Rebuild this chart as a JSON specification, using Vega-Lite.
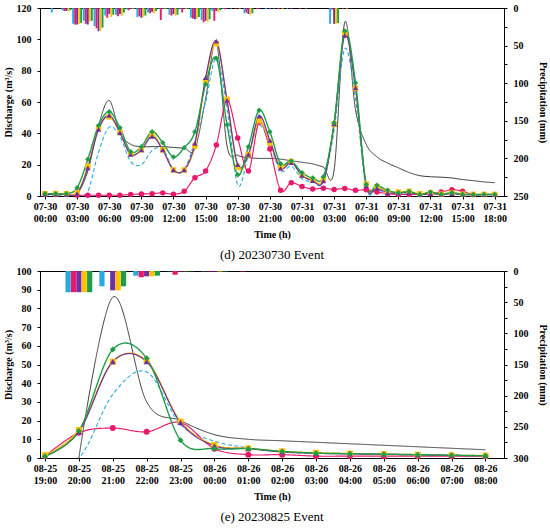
{
  "$schema": "https://vega.github.io/schema/vega-lite/v6.json",
  "padding": {"left": 2, "top": 2, "right": 0, "bottom": 0},
  "spacing": 2,
  "config": {
    "font": "Liberation Serif",
    "view": {"stroke": "black", "strokeWidth": 1},
    "axis": {
      "labelFont": "Liberation Serif", "labelFontWeight": "bold", "labelFontSize": 10, "labelColor": "black",
      "titleFont": "Liberation Serif", "titleFontWeight": "bold", "titleFontSize": 10, "titleColor": "black",
      "domainColor": "black", "tickColor": "black", "tickSize": 3, "grid": false, "labelPadding": 2, "titlePadding": 3
    },
    "axisY": {"labelPadding": 6},
    "title": {"font": "Liberation Serif", "fontSize": 13, "fontWeight": "normal", "color": "black"}
  },
  "datasets": {
    "q1": [
      {"h":0,"s":"Obs","q":1},{"h":1,"s":"Obs","q":1},{"h":2,"s":"Obs","q":1},{"h":3,"s":"Obs","q":1.5},{"h":4,"s":"Obs","q":16},{"h":5,"s":"Obs","q":45},{"h":6,"s":"Obs","q":61},{"h":7,"s":"Obs","q":40},{"h":8,"s":"Obs","q":33},{"h":9,"s":"Obs","q":31.5},{"h":10,"s":"Obs","q":31.5},{"h":11,"s":"Obs","q":31.5},{"h":12,"s":"Obs","q":31},{"h":13,"s":"Obs","q":30.5},{"h":14,"s":"Obs","q":30},{"h":15,"s":"Obs","q":62},{"h":16,"s":"Obs","q":98},{"h":17,"s":"Obs","q":32},{"h":18,"s":"Obs","q":26},{"h":19,"s":"Obs","q":24.5},{"h":20,"s":"Obs","q":24},{"h":21,"s":"Obs","q":24},{"h":22,"s":"Obs","q":23.5},{"h":23,"s":"Obs","q":22.5},{"h":24,"s":"Obs","q":21.5},{"h":25,"s":"Obs","q":20.5},{"h":26,"s":"Obs","q":18.5},{"h":27,"s":"Obs","q":16.5},{"h":28,"s":"Obs","q":111},{"h":29,"s":"Obs","q":55},{"h":30,"s":"Obs","q":33},{"h":31,"s":"Obs","q":25},{"h":32,"s":"Obs","q":21},{"h":33,"s":"Obs","q":18},{"h":34,"s":"Obs","q":15},{"h":35,"s":"Obs","q":13},{"h":36,"s":"Obs","q":12.3},{"h":37,"s":"Obs","q":12},{"h":38,"s":"Obs","q":11.5},{"h":39,"s":"Obs","q":10.5},{"h":40,"s":"Obs","q":9.8},{"h":41,"s":"Obs","q":9},{"h":42,"s":"Obs","q":8.5},
      {"h":0,"s":"P1","q":0.5},{"h":1,"s":"P1","q":0.5},{"h":2,"s":"P1","q":0.5},{"h":3,"s":"P1","q":0.5},{"h":4,"s":"P1","q":3},{"h":5,"s":"P1","q":28},{"h":6,"s":"P1","q":44},{"h":7,"s":"P1","q":38},{"h":8,"s":"P1","q":22},{"h":9,"s":"P1","q":20},{"h":10,"s":"P1","q":29},{"h":11,"s":"P1","q":30},{"h":12,"s":"P1","q":17},{"h":13,"s":"P1","q":17},{"h":14,"s":"P1","q":35},{"h":15,"s":"P1","q":60},{"h":16,"s":"P1","q":88},{"h":17,"s":"P1","q":56},{"h":18,"s":"P1","q":7},{"h":19,"s":"P1","q":26},{"h":20,"s":"P1","q":45},{"h":21,"s":"P1","q":33},{"h":22,"s":"P1","q":16},{"h":23,"s":"P1","q":19},{"h":24,"s":"P1","q":11},{"h":25,"s":"P1","q":9},{"h":26,"s":"P1","q":9},{"h":27,"s":"P1","q":42},{"h":28,"s":"P1","q":94},{"h":29,"s":"P1","q":62},{"h":30,"s":"P1","q":5},{"h":31,"s":"P1","q":4},{"h":32,"s":"P1","q":2},{"h":33,"s":"P1","q":1.5},{"h":34,"s":"P1","q":2},{"h":35,"s":"P1","q":1},{"h":36,"s":"P1","q":1.5},{"h":37,"s":"P1","q":1},{"h":38,"s":"P1","q":1.5},{"h":39,"s":"P1","q":1},{"h":40,"s":"P1","q":1},{"h":41,"s":"P1","q":1},{"h":42,"s":"P1","q":1},
      {"h":0,"s":"P2","q":1},{"h":1,"s":"P2","q":1},{"h":2,"s":"P2","q":1},{"h":3,"s":"P2","q":0.5},{"h":4,"s":"P2","q":0.5},{"h":5,"s":"P2","q":0.5},{"h":6,"s":"P2","q":0.5},{"h":7,"s":"P2","q":0.5},{"h":8,"s":"P2","q":1},{"h":9,"s":"P2","q":1.3},{"h":10,"s":"P2","q":1.5},{"h":11,"s":"P2","q":2},{"h":12,"s":"P2","q":1.2},{"h":13,"s":"P2","q":3},{"h":14,"s":"P2","q":11.7},{"h":15,"s":"P2","q":16},{"h":16,"s":"P2","q":32.5},{"h":17,"s":"P2","q":61},{"h":18,"s":"P2","q":37},{"h":19,"s":"P2","q":16},{"h":20,"s":"P2","q":47},{"h":21,"s":"P2","q":30},{"h":22,"s":"P2","q":3.7},{"h":23,"s":"P2","q":8.5},{"h":24,"s":"P2","q":6},{"h":25,"s":"P2","q":4.5},{"h":26,"s":"P2","q":5},{"h":27,"s":"P2","q":4.2},{"h":28,"s":"P2","q":4.8},{"h":29,"s":"P2","q":3.6},{"h":30,"s":"P2","q":4},{"h":31,"s":"P2","q":2.6},{"h":32,"s":"P2","q":1.5},{"h":33,"s":"P2","q":1},{"h":34,"s":"P2","q":1},{"h":35,"s":"P2","q":1},{"h":36,"s":"P2","q":1.5},{"h":37,"s":"P2","q":2.5},{"h":38,"s":"P2","q":4},{"h":39,"s":"P2","q":3},{"h":40,"s":"P2","q":1},{"h":41,"s":"P2","q":1},{"h":42,"s":"P2","q":1},
      {"h":0,"s":"P4","q":1.5},{"h":1,"s":"P4","q":1.5},{"h":2,"s":"P4","q":1.5},{"h":3,"s":"P4","q":2},{"h":4,"s":"P4","q":19},{"h":5,"s":"P4","q":43.5},{"h":6,"s":"P4","q":50.5},{"h":7,"s":"P4","q":40.5},{"h":8,"s":"P4","q":27},{"h":9,"s":"P4","q":29.5},{"h":10,"s":"P4","q":39.5},{"h":11,"s":"P4","q":29.5},{"h":12,"s":"P4","q":16.6},{"h":13,"s":"P4","q":16.6},{"h":14,"s":"P4","q":32},{"h":15,"s":"P4","q":73.5},{"h":16,"s":"P4","q":97.2},{"h":17,"s":"P4","q":61.7},{"h":18,"s":"P4","q":18.5},{"h":19,"s":"P4","q":26.5},{"h":20,"s":"P4","q":48},{"h":21,"s":"P4","q":34},{"h":22,"s":"P4","q":18.5},{"h":23,"s":"P4","q":22},{"h":24,"s":"P4","q":13.2},{"h":25,"s":"P4","q":10.5},{"h":26,"s":"P4","q":10.5},{"h":27,"s":"P4","q":45.7},{"h":28,"s":"P4","q":104},{"h":29,"s":"P4","q":68.7},{"h":30,"s":"P4","q":7.6},{"h":31,"s":"P4","q":6},{"h":32,"s":"P4","q":3},{"h":33,"s":"P4","q":2.5},{"h":34,"s":"P4","q":3},{"h":35,"s":"P4","q":1.5},{"h":36,"s":"P4","q":2},{"h":37,"s":"P4","q":1.2},{"h":38,"s":"P4","q":2},{"h":39,"s":"P4","q":1.2},{"h":40,"s":"P4","q":1},{"h":41,"s":"P4","q":1},{"h":42,"s":"P4","q":1},
      {"h":0,"s":"P3","q":1},{"h":1,"s":"P3","q":1},{"h":2,"s":"P3","q":1},{"h":3,"s":"P3","q":1.5},{"h":4,"s":"P3","q":18},{"h":5,"s":"P3","q":42.5},{"h":6,"s":"P3","q":51.5},{"h":7,"s":"P3","q":40.4},{"h":8,"s":"P3","q":26.6},{"h":9,"s":"P3","q":29.4},{"h":10,"s":"P3","q":38},{"h":11,"s":"P3","q":29.4},{"h":12,"s":"P3","q":16.6},{"h":13,"s":"P3","q":16.6},{"h":14,"s":"P3","q":33.6},{"h":15,"s":"P3","q":75.5},{"h":16,"s":"P3","q":98.9},{"h":17,"s":"P3","q":61},{"h":18,"s":"P3","q":20},{"h":19,"s":"P3","q":26.5},{"h":20,"s":"P3","q":51},{"h":21,"s":"P3","q":35.5},{"h":22,"s":"P3","q":17.7},{"h":23,"s":"P3","q":21.3},{"h":24,"s":"P3","q":13.2},{"h":25,"s":"P3","q":9.8},{"h":26,"s":"P3","q":9.7},{"h":27,"s":"P3","q":46},{"h":28,"s":"P3","q":102.5},{"h":29,"s":"P3","q":69},{"h":30,"s":"P3","q":6.5},{"h":31,"s":"P3","q":5},{"h":32,"s":"P3","q":2.2},{"h":33,"s":"P3","q":1.8},{"h":34,"s":"P3","q":2.2},{"h":35,"s":"P3","q":1},{"h":36,"s":"P3","q":1.5},{"h":37,"s":"P3","q":1},{"h":38,"s":"P3","q":1.5},{"h":39,"s":"P3","q":1},{"h":40,"s":"P3","q":0.8},{"h":41,"s":"P3","q":0.8},{"h":42,"s":"P3","q":0.8},
      {"h":0,"s":"P5","q":1.5},{"h":1,"s":"P5","q":1.5},{"h":2,"s":"P5","q":1.5},{"h":3,"s":"P5","q":5.3},{"h":4,"s":"P5","q":23.4},{"h":5,"s":"P5","q":45},{"h":6,"s":"P5","q":53.8},{"h":7,"s":"P5","q":43.6},{"h":8,"s":"P5","q":28.3},{"h":9,"s":"P5","q":31.5},{"h":10,"s":"P5","q":41},{"h":11,"s":"P5","q":34},{"h":12,"s":"P5","q":24.9},{"h":13,"s":"P5","q":30.8},{"h":14,"s":"P5","q":41},{"h":15,"s":"P5","q":71.3},{"h":16,"s":"P5","q":87.9},{"h":17,"s":"P5","q":45.5},{"h":18,"s":"P5","q":13.5},{"h":19,"s":"P5","q":31.5},{"h":20,"s":"P5","q":54.7},{"h":21,"s":"P5","q":41},{"h":22,"s":"P5","q":20.6},{"h":23,"s":"P5","q":22.3},{"h":24,"s":"P5","q":14.9},{"h":25,"s":"P5","q":11.5},{"h":26,"s":"P5","q":12.3},{"h":27,"s":"P5","q":46.8},{"h":28,"s":"P5","q":105.3},{"h":29,"s":"P5","q":72.3},{"h":30,"s":"P5","q":7.4},{"h":31,"s":"P5","q":6.8},{"h":32,"s":"P5","q":3.6},{"h":33,"s":"P5","q":2.1},{"h":34,"s":"P5","q":2.8},{"h":35,"s":"P5","q":1},{"h":36,"s":"P5","q":2.5},{"h":37,"s":"P5","q":1.1},{"h":38,"s":"P5","q":2.1},{"h":39,"s":"P5","q":1.1},{"h":40,"s":"P5","q":1},{"h":41,"s":"P5","q":1},{"h":42,"s":"P5","q":1}
    ],
    "p1": [
      {"h":1,"s":"P1","p":6},
      {"h":2,"s":"P1","p":3},{"h":2,"s":"P2","p":4},{"h":2,"s":"P3","p":4},{"h":2,"s":"P4","p":4},{"h":2,"s":"P5","p":3},
      {"h":3,"s":"P1","p":21},{"h":3,"s":"P2","p":22},{"h":3,"s":"P3","p":22},{"h":3,"s":"P4","p":21},{"h":3,"s":"P5","p":20},
      {"h":4,"s":"P1","p":17},{"h":4,"s":"P2","p":21},{"h":4,"s":"P3","p":22},{"h":4,"s":"P4","p":18},{"h":4,"s":"P5","p":17},
      {"h":5,"s":"P1","p":24},{"h":5,"s":"P2","p":27},{"h":5,"s":"P3","p":31},{"h":5,"s":"P4","p":30},{"h":5,"s":"P5","p":26},
      {"h":6,"s":"P1","p":10},{"h":6,"s":"P2","p":13},{"h":6,"s":"P3","p":8},{"h":6,"s":"P4","p":12},{"h":6,"s":"P5","p":9},
      {"h":7,"s":"P1","p":9},{"h":7,"s":"P2","p":11},{"h":7,"s":"P3","p":8},{"h":7,"s":"P4","p":10},{"h":7,"s":"P5","p":6},
      {"h":8,"s":"P1","p":2},{"h":8,"s":"P2","p":3},{"h":8,"s":"P3","p":1},{"h":8,"s":"P4","p":1},{"h":8,"s":"P5","p":1},
      {"h":9,"s":"P1","p":12},{"h":9,"s":"P2","p":11},{"h":9,"s":"P3","p":13},{"h":9,"s":"P4","p":12},{"h":9,"s":"P5","p":10},
      {"h":10,"s":"P1","p":6},{"h":10,"s":"P2","p":7},{"h":10,"s":"P3","p":5},{"h":10,"s":"P4","p":7},{"h":10,"s":"P5","p":4},
      {"h":11,"s":"P1","p":1},{"h":11,"s":"P2","p":16},{"h":11,"s":"P3","p":1},{"h":11,"s":"P4","p":1},{"h":11,"s":"P5","p":1},
      {"h":12,"s":"P1","p":9},{"h":12,"s":"P2","p":10},{"h":12,"s":"P3","p":8},{"h":12,"s":"P4","p":10},{"h":12,"s":"P5","p":9},
      {"h":13,"s":"P1","p":1},{"h":13,"s":"P2","p":6},{"h":13,"s":"P3","p":1},{"h":13,"s":"P4","p":1},{"h":13,"s":"P5","p":1},
      {"h":14,"s":"P1","p":13},{"h":14,"s":"P2","p":14},{"h":14,"s":"P3","p":15},{"h":14,"s":"P4","p":14},{"h":14,"s":"P5","p":12},
      {"h":15,"s":"P1","p":16},{"h":15,"s":"P2","p":19},{"h":15,"s":"P3","p":17},{"h":15,"s":"P4","p":18},{"h":15,"s":"P5","p":15},
      {"h":16,"s":"P1","p":4},{"h":16,"s":"P2","p":17},{"h":16,"s":"P3","p":4},{"h":16,"s":"P4","p":5},{"h":16,"s":"P5","p":3},
      {"h":17,"s":"P1","p":1},{"h":17,"s":"P2","p":1.5},{"h":17,"s":"P3","p":1},{"h":17,"s":"P5","p":1},
      {"h":18,"s":"P2","p":1},{"h":18,"s":"P4","p":1},
      {"h":19,"s":"P1","p":7},{"h":19,"s":"P2","p":6},{"h":19,"s":"P3","p":8},{"h":19,"s":"P4","p":9},{"h":19,"s":"P5","p":7},
      {"h":20,"s":"P2","p":1.5},{"h":20,"s":"P3","p":1},
      {"h":21,"s":"P1","p":1.5},{"h":21,"s":"P3","p":1.5},{"h":21,"s":"P5","p":1},
      {"h":22,"s":"P2","p":1.5},{"h":22,"s":"P4","p":1},
      {"h":23,"s":"P1","p":1},{"h":23,"s":"P3","p":1.5},
      {"h":24,"s":"P2","p":1},{"h":24,"s":"P5","p":1},
      {"h":27,"s":"P1","p":21},{"h":27,"s":"P2","p":2},{"h":27,"s":"P3","p":21},{"h":27,"s":"P4","p":21},{"h":27,"s":"P5","p":20},
      {"h":28,"s":"P2","p":1},{"h":28,"s":"P4","p":1}
    ],
    "q2": [
      {"h":1,"s":"Obs","q":0},{"h":2,"s":"Obs","q":86},{"h":3,"s":"Obs","q":30},{"h":4,"s":"Obs","q":20},{"h":5,"s":"Obs","q":12.5},{"h":6,"s":"Obs","q":10},{"h":7,"s":"Obs","q":9.2},{"h":8,"s":"Obs","q":8.4},{"h":9,"s":"Obs","q":7.6},{"h":10,"s":"Obs","q":6.8},{"h":11,"s":"Obs","q":6},{"h":12,"s":"Obs","q":5.2},{"h":13,"s":"Obs","q":4.4},
      {"h":0,"s":"P1","q":0},{"h":1,"s":"P1","q":0},{"h":2,"s":"P1","q":34},{"h":3,"s":"P1","q":46},{"h":4,"s":"P1","q":18},{"h":5,"s":"P1","q":9},{"h":6,"s":"P1","q":5.5},{"h":7,"s":"P1","q":3.5},{"h":8,"s":"P1","q":2.8},{"h":9,"s":"P1","q":2.3},{"h":10,"s":"P1","q":2},{"h":11,"s":"P1","q":1.7},{"h":12,"s":"P1","q":1.4},{"h":13,"s":"P1","q":1.2},
      {"h":0,"s":"P2","q":1},{"h":1,"s":"P2","q":13.5},{"h":2,"s":"P2","q":16},{"h":3,"s":"P2","q":14},{"h":4,"s":"P2","q":19},{"h":5,"s":"P2","q":5},{"h":6,"s":"P2","q":1.8},{"h":7,"s":"P2","q":1.8},{"h":8,"s":"P2","q":1},{"h":9,"s":"P2","q":1},{"h":10,"s":"P2","q":1},{"h":11,"s":"P2","q":1},{"h":12,"s":"P2","q":1},{"h":13,"s":"P2","q":1},
      {"h":0,"s":"P4","q":1.5},{"h":1,"s":"P4","q":15},{"h":2,"s":"P4","q":51.5},{"h":3,"s":"P4","q":52},{"h":4,"s":"P4","q":19.5},{"h":5,"s":"P4","q":7},{"h":6,"s":"P4","q":5.2},{"h":7,"s":"P4","q":3.6},{"h":8,"s":"P4","q":2.8},{"h":9,"s":"P4","q":2.4},{"h":10,"s":"P4","q":2.1},{"h":11,"s":"P4","q":1.8},{"h":12,"s":"P4","q":1.5},{"h":13,"s":"P4","q":1.3},
      {"h":0,"s":"P3","q":1},{"h":1,"s":"P3","q":14},{"h":2,"s":"P3","q":51.5},{"h":3,"s":"P3","q":51.5},{"h":4,"s":"P3","q":19},{"h":5,"s":"P3","q":6.5},{"h":6,"s":"P3","q":5},{"h":7,"s":"P3","q":3.2},{"h":8,"s":"P3","q":2.5},{"h":9,"s":"P3","q":2.2},{"h":10,"s":"P3","q":2},{"h":11,"s":"P3","q":1.7},{"h":12,"s":"P3","q":1.4},{"h":13,"s":"P3","q":1.2},
      {"h":0,"s":"P5","q":1},{"h":1,"s":"P5","q":14.5},{"h":2,"s":"P5","q":58},{"h":3,"s":"P5","q":53.3},{"h":4,"s":"P5","q":9.5},{"h":5,"s":"P5","q":5},{"h":6,"s":"P5","q":5},{"h":7,"s":"P5","q":3.5},{"h":8,"s":"P5","q":2.6},{"h":9,"s":"P5","q":2.3},{"h":10,"s":"P5","q":2},{"h":11,"s":"P5","q":1.8},{"h":12,"s":"P5","q":1.5},{"h":13,"s":"P5","q":1.2}
    ],
    "p2": [
      {"h":1,"s":"P1","p":34},{"h":1,"s":"P2","p":34},{"h":1,"s":"P3","p":34},{"h":1,"s":"P4","p":34},{"h":1,"s":"P5","p":34},
      {"h":2,"s":"P1","p":24.5},{"h":2,"s":"P2","p":1},{"h":2,"s":"P3","p":31},{"h":2,"s":"P4","p":31},{"h":2,"s":"P5","p":24.5},
      {"h":3,"s":"P1","p":7.5},{"h":3,"s":"P2","p":10},{"h":3,"s":"P3","p":8.5},{"h":3,"s":"P4","p":8.5},{"h":3,"s":"P5","p":7.5},
      {"h":4,"s":"P1","p":0.5},{"h":4,"s":"P2","p":6},{"h":4,"s":"P3","p":1},{"h":4,"s":"P4","p":0.5},{"h":4,"s":"P5","p":0.5},
      {"h":5,"s":"P1","p":0.5},{"h":5,"s":"P2","p":0.8},{"h":5,"s":"P3","p":1},{"h":5,"s":"P4","p":1},{"h":5,"s":"P5","p":0.8},
      {"h":6,"s":"P2","p":0.8}
    ]
  },
  "vconcat": [
    {
      "width": 464,
      "height": 188,
      "title": {"text": "(d) 20230730 Event", "orient": "bottom", "offset": 10},
      "encoding": {
        "x": {
          "field": "h", "type": "quantitative",
          "scale": {"domain": [0, 42.4], "nice": false, "zero": false},
          "axis": {
            "values": [0, 3, 6, 9, 12, 15, 18, 21, 24, 27, 30, 33, 36, 39, 42],
            "labelExpr": "[datum.value < 24 ? '07-30' : '07-31', (datum.value % 24 < 10 ? '0' : '') + (datum.value % 24) + ':00']",
            "labelLineHeight": 12, "labelAngle": 0, "title": "Time (h)", "titlePadding": 6
          }
        }
      },
      "layer": [
        {
          "data": {"name": "p1"},
          "encoding": {
            "y": {
              "field": "p", "type": "quantitative",
              "scale": {"domain": [0, 250], "reverse": true, "nice": false},
              "axis": {"orient": "right", "title": "Precipitation (mm)", "titlePadding": 9, "values": [0, 25, 50, 75, 100, 125, 150, 175, 200, 225, 250], "labelExpr": "datum.value % 50 == 0 ? datum.label : ''"}
            }
          },
          "layer": [
            {"transform": [{"filter": "datum.s == 'P1'"}], "mark": {"type": "bar", "orient": "vertical", "width": 1.9, "xOffset": -4, "color": "#29A9E0"}},
            {"transform": [{"filter": "datum.s == 'P2'"}], "mark": {"type": "bar", "orient": "vertical", "width": 1.9, "xOffset": -2, "color": "#E8196B"}},
            {"transform": [{"filter": "datum.s == 'P3'"}], "mark": {"type": "bar", "orient": "vertical", "width": 1.9, "xOffset": 0, "color": "#7030A0"}},
            {"transform": [{"filter": "datum.s == 'P4'"}], "mark": {"type": "bar", "orient": "vertical", "width": 1.9, "xOffset": 2, "color": "#FFC000"}},
            {"transform": [{"filter": "datum.s == 'P5'"}], "mark": {"type": "bar", "orient": "vertical", "width": 1.9, "xOffset": 4, "color": "#1E9E48"}}
          ]
        },
        {
          "data": {"name": "q1"},
          "encoding": {
            "y": {
              "field": "q", "type": "quantitative",
              "scale": {"domain": [0, 120], "nice": false},
              "axis": {"orient": "left", "title": "Discharge (m³/s)", "values": [0, 20, 40, 60, 80, 100, 120]}
            },
            "color": {
              "field": "s", "type": "nominal",
              "scale": {"domain": ["Obs", "P1", "P2", "P3", "P4", "P5"], "range": ["#3A3A3A", "#29A9E0", "#E8196B", "#7030A0", "#FFC000", "#1E9E48"]},
              "legend": null
            }
          },
          "layer": [
            {
              "mark": {"type": "line", "interpolate": "cardinal", "clip": true},
              "encoding": {
                "strokeDash": {"field": "s", "type": "nominal", "scale": {"domain": ["Obs", "P1", "P2", "P3", "P4", "P5"], "range": [[1, 0], [4, 2.5], [1, 0], [1, 0], [1, 0], [1, 0]]}, "legend": null},
                "strokeWidth": {"field": "s", "type": "nominal", "scale": {"domain": ["Obs", "P1", "P2", "P3", "P4", "P5"], "range": [1, 1.4, 1.4, 1.4, 1.4, 1.4]}, "legend": null}
              }
            },
            {
              "transform": [{"filter": "datum.s != 'Obs' && datum.s != 'P1'"}],
              "mark": {"type": "point", "filled": true, "opacity": 1, "size": 30},
              "encoding": {
                "shape": {"field": "s", "type": "nominal", "scale": {"domain": ["P2", "P3", "P4", "P5"], "range": ["circle", "triangle-up", "square", "diamond"]}, "legend": null}
              }
            }
          ]
        }
      ],
      "resolve": {"scale": {"y": "independent"}}
    },
    {
      "width": 464,
      "height": 187,
      "title": {"text": "(e) 20230825 Event", "orient": "bottom", "offset": 10},
      "encoding": {
        "x": {
          "field": "h", "type": "quantitative",
          "scale": {"domain": [0, 13.4], "nice": false, "zero": false},
          "axis": {
            "values": [0, 1, 2, 3, 4, 5, 6, 7, 8, 9, 10, 11, 12, 13],
            "labelExpr": "[datum.value < 5 ? '08-25' : '08-26', ((datum.value + 19) % 24 < 10 ? '0' : '') + ((datum.value + 19) % 24) + ':00']",
            "labelLineHeight": 12, "labelAngle": 0, "title": "Time (h)", "titlePadding": 6
          }
        }
      },
      "layer": [
        {
          "data": {"name": "p2"},
          "encoding": {
            "y": {
              "field": "p", "type": "quantitative",
              "scale": {"domain": [0, 300], "reverse": true, "nice": false},
              "axis": {"orient": "right", "title": "Precipitation (mm)", "titlePadding": 9, "values": [0, 25, 50, 75, 100, 125, 150, 175, 200, 225, 250, 275, 300], "labelExpr": "datum.value % 50 == 0 ? datum.label : ''"}
            }
          },
          "layer": [
            {"transform": [{"filter": "datum.s == 'P1'"}], "mark": {"type": "bar", "orient": "vertical", "width": 5.2, "xOffset": -10.8, "color": "#29A9E0"}},
            {"transform": [{"filter": "datum.s == 'P2'"}], "mark": {"type": "bar", "orient": "vertical", "width": 5.2, "xOffset": -5.4, "color": "#E8196B"}},
            {"transform": [{"filter": "datum.s == 'P3'"}], "mark": {"type": "bar", "orient": "vertical", "width": 5.2, "xOffset": 0, "color": "#7030A0"}},
            {"transform": [{"filter": "datum.s == 'P4'"}], "mark": {"type": "bar", "orient": "vertical", "width": 5.2, "xOffset": 5.4, "color": "#FFC000"}},
            {"transform": [{"filter": "datum.s == 'P5'"}], "mark": {"type": "bar", "orient": "vertical", "width": 5.2, "xOffset": 10.8, "color": "#1E9E48"}}
          ]
        },
        {
          "data": {"name": "q2"},
          "encoding": {
            "y": {
              "field": "q", "type": "quantitative",
              "scale": {"domain": [0, 100], "nice": false},
              "axis": {"orient": "left", "title": "Discharge (m³/s)", "values": [0, 10, 20, 30, 40, 50, 60, 70, 80, 90, 100]}
            },
            "color": {
              "field": "s", "type": "nominal",
              "scale": {"domain": ["Obs", "P1", "P2", "P3", "P4", "P5"], "range": ["#3A3A3A", "#29A9E0", "#E8196B", "#7030A0", "#FFC000", "#1E9E48"]},
              "legend": null
            }
          },
          "layer": [
            {
              "mark": {"type": "line", "interpolate": "cardinal", "clip": true},
              "encoding": {
                "strokeDash": {"field": "s", "type": "nominal", "scale": {"domain": ["Obs", "P1", "P2", "P3", "P4", "P5"], "range": [[1, 0], [4, 2.5], [1, 0], [1, 0], [1, 0], [1, 0]]}, "legend": null},
                "strokeWidth": {"field": "s", "type": "nominal", "scale": {"domain": ["Obs", "P1", "P2", "P3", "P4", "P5"], "range": [1, 1.4, 1.4, 1.4, 1.4, 1.4]}, "legend": null}
              }
            },
            {
              "transform": [{"filter": "datum.s != 'Obs' && datum.s != 'P1'"}],
              "mark": {"type": "point", "filled": true, "opacity": 1, "size": 36},
              "encoding": {
                "shape": {"field": "s", "type": "nominal", "scale": {"domain": ["P2", "P3", "P4", "P5"], "range": ["circle", "triangle-up", "square", "diamond"]}, "legend": null}
              }
            }
          ]
        }
      ],
      "resolve": {"scale": {"y": "independent"}}
    }
  ]
}
